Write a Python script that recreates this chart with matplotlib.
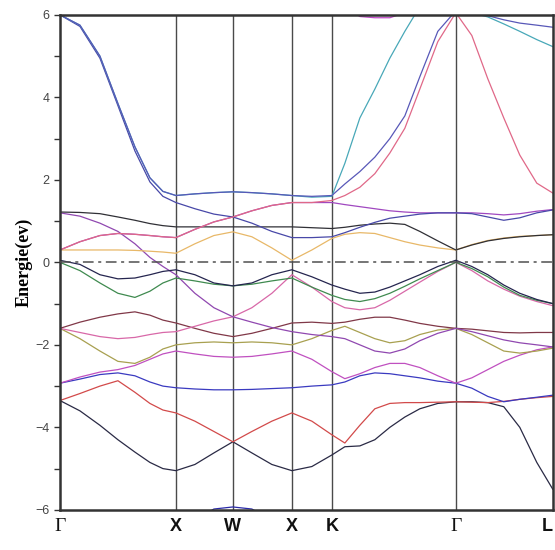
import matplotlib
matplotlib.use("Agg")
import matplotlib.pyplot as plt
from matplotlib.ticker import MultipleLocator

# ---- data -------------------------------------------------------------
kpath = [60, 80, 100, 118, 135, 150, 163, 176, 195, 214, 233, 252, 272, 292, 312,
         332, 345, 360, 375, 390, 405, 420, 438, 456, 472, 488, 504, 520, 537, 553]
node_pos = [60, 176, 233, 292, 332, 456, 553]
node_labels = ["Γ", "X", "W", "X", "K", "Γ", "L"]

band_deep = [-8.0, -7.9, -7.7, -7.4, -7.1, -6.8, -6.6, -6.5, -6.25, -5.98, -5.93, -5.98, -6.25, -6.5, -6.7,
             -6.9, -7.0, -7.1, -7.2, -7.3, -7.4, -7.5, -7.7, -7.9, -7.9, -7.8, -7.6, -7.4, -7.2, -7.0]
band_a = [-3.35, -3.6, -3.95, -4.3, -4.6, -4.85, -5.0, -5.05, -4.9, -4.62, -4.35, -4.62, -4.9, -5.05, -4.95,
          -4.67, -4.47, -4.45, -4.3, -4.0, -3.75, -3.55, -3.42, -3.38, -3.38, -3.4, -3.5, -4.0, -4.85, -5.5]
band_b = [-3.35, -3.18, -3.0, -2.87, -3.15, -3.42, -3.58, -3.65, -3.85, -4.1, -4.35, -4.1, -3.85, -3.65, -3.85,
          -4.18, -4.38, -3.95, -3.55, -3.42, -3.4, -3.4, -3.39, -3.38, -3.39, -3.4, -3.37, -3.32, -3.28, -3.25]
band_c = [-2.93, -2.83, -2.72, -2.68, -2.75, -2.9, -3.0, -3.04, -3.07, -3.09, -3.09, -3.08, -3.06, -3.04, -3.0,
          -2.97, -2.9, -2.75, -2.68, -2.7, -2.75, -2.8, -2.88, -2.93, -3.05, -3.25, -3.38, -3.32, -3.27, -3.22]
band_d = [-2.93, -2.78, -2.66, -2.6, -2.5, -2.35, -2.22, -2.15, -2.22, -2.28, -2.3, -2.28, -2.22, -2.15, -2.35,
          -2.65, -2.82, -2.7, -2.55, -2.45, -2.45, -2.55, -2.75, -2.93, -2.8, -2.6, -2.4, -2.25, -2.12, -2.05]
band_e = [-1.6, -1.85, -2.15, -2.4, -2.45, -2.3, -2.1, -2.0, -1.95, -1.93, -1.95, -1.93, -1.95, -2.0, -1.85,
          -1.65, -1.55, -1.7, -1.85, -1.95, -1.9, -1.75, -1.64, -1.6, -1.75, -1.95, -2.15, -2.2, -2.15, -2.08]
band_f = [-1.6, -1.45, -1.33, -1.25, -1.2, -1.28, -1.4, -1.47, -1.6, -1.72, -1.8, -1.72, -1.6, -1.47, -1.45,
          -1.48, -1.45, -1.38, -1.33, -1.33, -1.4, -1.48, -1.55, -1.6, -1.62, -1.66, -1.7, -1.71, -1.7, -1.7]
band_g = [-1.6, -1.7, -1.8, -1.85, -1.82, -1.75, -1.7, -1.68, -1.55, -1.42, -1.32, -1.1, -0.75, -0.3, -0.6,
          -0.95, -1.1, -1.15, -1.1, -0.92, -0.7, -0.48, -0.22, 0.0, -0.2, -0.45, -0.65, -0.82, -0.95, -1.05]
band_h = [1.2, 1.12, 0.95, 0.75, 0.45, 0.12, -0.1, -0.3, -0.75, -1.1, -1.32, -1.45, -1.58, -1.68, -1.75,
          -1.8, -1.85, -2.0, -2.15, -2.2, -2.1, -1.9, -1.72, -1.6, -1.68, -1.78, -1.88, -1.95, -2.0, -2.05]
band_i = [0.0, -0.2, -0.5, -0.75, -0.85, -0.7, -0.5, -0.38, -0.45, -0.53, -0.57, -0.53, -0.45, -0.38, -0.6,
          -0.8, -0.9, -0.95, -0.88, -0.75, -0.58, -0.4, -0.2, 0.0, -0.15, -0.35, -0.6, -0.8, -0.92, -1.0]
band_j = [0.05, -0.05, -0.3, -0.4, -0.38, -0.3, -0.22, -0.18, -0.3, -0.5, -0.57, -0.5, -0.3, -0.18, -0.35,
          -0.55, -0.65, -0.75, -0.72, -0.6, -0.45, -0.3, -0.1, 0.05, -0.1, -0.3, -0.55, -0.75, -0.9, -1.0]
band_k = [0.3, 0.3, 0.3, 0.3, 0.29, 0.27, 0.25, 0.22, 0.45, 0.65, 0.74, 0.62, 0.35, 0.05, 0.3,
          0.58, 0.68, 0.72, 0.7, 0.6, 0.5, 0.42, 0.35, 0.3, 0.43, 0.53, 0.59, 0.63, 0.65, 0.67]
band_m = [1.22, 1.21, 1.18, 1.1, 1.02, 0.94, 0.89, 0.86, 0.86, 0.86, 0.86, 0.86, 0.86, 0.86, 0.84,
          0.82, 0.85, 0.9, 0.93, 0.95, 0.92, 0.75, 0.52, 0.3, 0.42, 0.52, 0.58, 0.62, 0.65, 0.67]
band_l = [0.3, 0.5, 0.65, 0.7, 0.68, 0.65, 0.62, 0.6, 0.8, 0.98, 1.1, 1.25, 1.38, 1.45, 1.45,
          1.45, 1.4, 1.35, 1.3, 1.25, 1.22, 1.2, 1.2, 1.2, 1.2, 1.18, 1.15, 1.18, 1.24, 1.28]
band_u2 = [6.0, 5.72, 4.95, 3.8, 2.7, 1.95, 1.6, 1.45, 1.3, 1.17, 1.1, 0.95, 0.75, 0.6, 0.6,
           0.62, 0.72, 0.85, 0.97, 1.07, 1.12, 1.17, 1.2, 1.2, 1.18, 1.1, 1.02, 1.08, 1.2, 1.27]
band_u1 = [6.0, 5.75, 5.0, 3.85, 2.8, 2.05, 1.72, 1.62, 1.66, 1.69, 1.71, 1.69, 1.66, 1.62, 1.58,
           1.6, 2.4, 3.5, 4.2, 4.95, 5.6, 6.2, 6.4, 6.05, 6.05, 5.95, 5.78, 5.6, 5.4, 5.23]
band_u4 = [6.0, 5.75, 5.0, 3.85, 2.8, 2.05, 1.72, 1.62, 1.66, 1.69, 1.71, 1.69, 1.66, 1.62, 1.6,
           1.62, 1.9, 2.2, 2.55, 3.0, 3.55, 4.5, 5.6, 6.1, 6.05, 5.98, 5.88, 5.8, 5.75, 5.7]
band_u5 = [0.3, 0.5, 0.65, 0.7, 0.68, 0.65, 0.62, 0.6, 0.8, 0.98, 1.1, 1.25, 1.38, 1.45, 1.45,
           1.5, 1.62, 1.82, 2.15, 2.65, 3.25, 4.2, 5.35, 6.05, 5.5, 4.45, 3.5, 2.6, 1.92, 1.68]
band_u6 = [7.5, 7.4, 7.2, 7.0, 6.9, 6.8, 6.7, 6.6, 6.6, 6.6, 6.6, 6.6, 6.6, 6.6, 6.5,
           6.4, 6.2, 5.96, 5.93, 5.93, 6.05, 6.3, 6.6, 6.9, 7.0, 7.0, 7.0, 7.0, 7.0, 7.0]

bands = [
    (band_deep, "#2a2aa8"), (band_a, "#2a2a45"), (band_b, "#d24a4a"), (band_c, "#3a3ac0"),
    (band_d, "#c050c0"), (band_e, "#a8a050"), (band_f, "#803848"), (band_g, "#d868a8"),
    (band_h, "#9048b0"), (band_i, "#3f8a4f"), (band_j, "#25254f"), (band_k, "#e8b868"),
    (band_m, "#303036"), (band_l, "#a048c0"), (band_u2, "#4848a8"), (band_u1, "#48a8b8"),
    (band_u4, "#5858b8"), (band_u5, "#e06888"), (band_u6, "#c048c8"),
]

# ---- figure -----------------------------------------------------------
fig = plt.figure(figsize=(5.55, 5.5), dpi=100)
ax = fig.add_axes([0.108, 0.073, 0.888, 0.9])

for vals, col in bands:
    ax.plot(kpath, vals, color=col, lw=0.9, zorder=2)

for xp in node_pos[1:-1]:
    ax.axvline(xp, color="#4a4a4a", lw=1.0, zorder=1)
ax.axhline(0, color="#505050", lw=1.1, ls=(0, (7, 3, 2, 3)), zorder=3)

ax.set_xlim(node_pos[0], node_pos[-1])
ax.set_ylim(-6, 6)

ax.yaxis.set_major_locator(MultipleLocator(2))
ax.yaxis.set_minor_locator(MultipleLocator(1))
ax.tick_params(axis="y", which="both", direction="out", length=4, width=1.0,
               colors="#333333", labelcolor="#444444", labelsize=9)
for lab in ax.get_yticklabels():
    lab.set_fontfamily("Liberation Sans")

ax.set_xticks(node_pos)
ax.set_xticklabels(node_labels)
ax.tick_params(axis="x", length=0, pad=6)
xlabs = ax.get_xticklabels()
for lab, txt in zip(xlabs, node_labels):
    if txt == "Γ":
        lab.set_fontfamily("Liberation Serif")
        lab.set_fontsize(14)
    else:
        lab.set_fontfamily("Liberation Sans")
        lab.set_fontweight("bold")
        lab.set_fontsize(13)
    lab.set_color("#111111")
xlabs[-1].set_horizontalalignment("right")

ax.set_ylabel("Energie(ev)", fontfamily="Liberation Serif", fontweight="bold",
              fontsize=13)
ax.yaxis.set_label_coords(-0.055, 0.5)

for sp in ax.spines.values():
    sp.set_linewidth(1.8)
    sp.set_color("#333333")

fig.savefig("out.png", dpi=100)
